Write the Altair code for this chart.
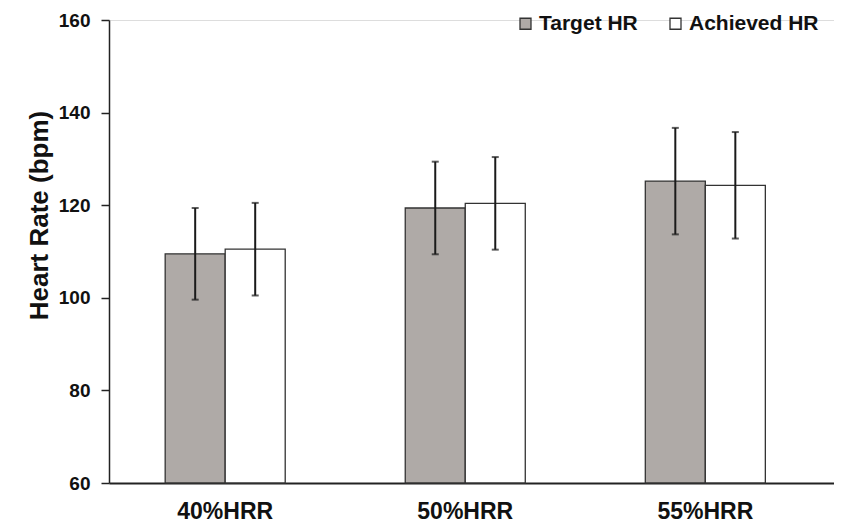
import altair as alt
import pandas as pd

groups = ["40%HRR", "50%HRR", "55%HRR"]
series = ["Target HR", "Achieved HR"]
target_mean = [109.5, 119.4, 125.2]
target_sd = [9.9, 10.0, 11.5]
achieved_mean = [110.5, 120.4, 124.3]
achieved_sd = [10.0, 10.0, 11.5]
y_ticks = [60, 80, 100, 120, 140, 160]

rows = []
for g, m, s in zip(groups, target_mean, target_sd):
    rows.append({"group": g, "series": "Target HR", "mean": m, "lo": m - s, "hi": m + s})
for g, m, s in zip(groups, achieved_mean, achieved_sd):
    rows.append({"group": g, "series": "Achieved HR", "mean": m, "lo": m - s, "hi": m + s})
df = pd.DataFrame(rows)

FONT = "Liberation Sans"

x = alt.X("group:N", sort=groups, title=None,
          scale=alt.Scale(paddingInner=0.5, paddingOuter=0.26, align=0.45),
          axis=alt.Axis(labelAngle=0, labelFont=FONT, labelFontSize=23, labelFontWeight="bold",
                        labelColor="#111", ticks=False, labelPadding=17,
                        domainColor="#222", domainWidth=2))
xo = alt.XOffset("series:N", sort=series, scale=alt.Scale(paddingInner=0, paddingOuter=0))
y_scale = alt.Scale(domain=[60, 160], zero=False, nice=False)

base = alt.Chart(df)

bars = base.mark_bar(stroke="#333333", strokeWidth=1.3).encode(
    x=x,
    xOffset=xo,
    y=alt.Y("mean:Q", scale=y_scale, title="Heart Rate (bpm)",
            axis=alt.Axis(values=y_ticks, grid=False, labelFont=FONT, labelFontSize=19,
                          labelFontWeight="bold", labelColor="#111", tickSize=8, tickWidth=1.5,
                          tickColor="#222", labelPadding=11, domainColor="#222", domainWidth=1.5,
                          titleFont=FONT, titleFontSize=26, titleFontWeight="bold",
                          titleColor="#111", titleX=-70, titleY=195, titleBaseline="middle")),
    y2=alt.datum(60),
    fill=alt.Fill("series:N", sort=series,
                  scale=alt.Scale(domain=series, range=["#AFAAA7", "#FFFFFF"]),
                  legend=alt.Legend(title=None, orient="none", direction="horizontal",
                                    legendX=406, legendY=-7, padding=0,
                                    symbolType="square", symbolSize=121,
                                    symbolStrokeColor="#333", symbolStrokeWidth=1.3,
                                    labelFont=FONT, labelFontSize=21, labelFontWeight="bold",
                                    labelColor="#111", labelOffset=3, columnPadding=27)),
)

rules = base.mark_rule(color="#1a1a1a", strokeWidth=2).encode(
    x=x, xOffset=xo,
    y=alt.Y("lo:Q", scale=y_scale),
    y2="hi:Q",
)
caps_lo = base.mark_tick(color="#1a1a1a", size=7, thickness=2).encode(
    x=x, xOffset=xo, y=alt.Y("lo:Q", scale=y_scale))
caps_hi = base.mark_tick(color="#1a1a1a", size=7, thickness=2).encode(
    x=x, xOffset=xo, y=alt.Y("hi:Q", scale=y_scale))

chart = alt.layer(bars, rules, caps_lo, caps_hi).properties(
    width=725, height=463,
    autosize=alt.AutoSizeParams(type="none"),
    padding={"left": 101, "top": 12, "right": 0, "bottom": 39},
).configure_view(stroke=None).configure(background="white")

chart.save("out.html", embed_options={"renderer": "svg", "actions": False})
